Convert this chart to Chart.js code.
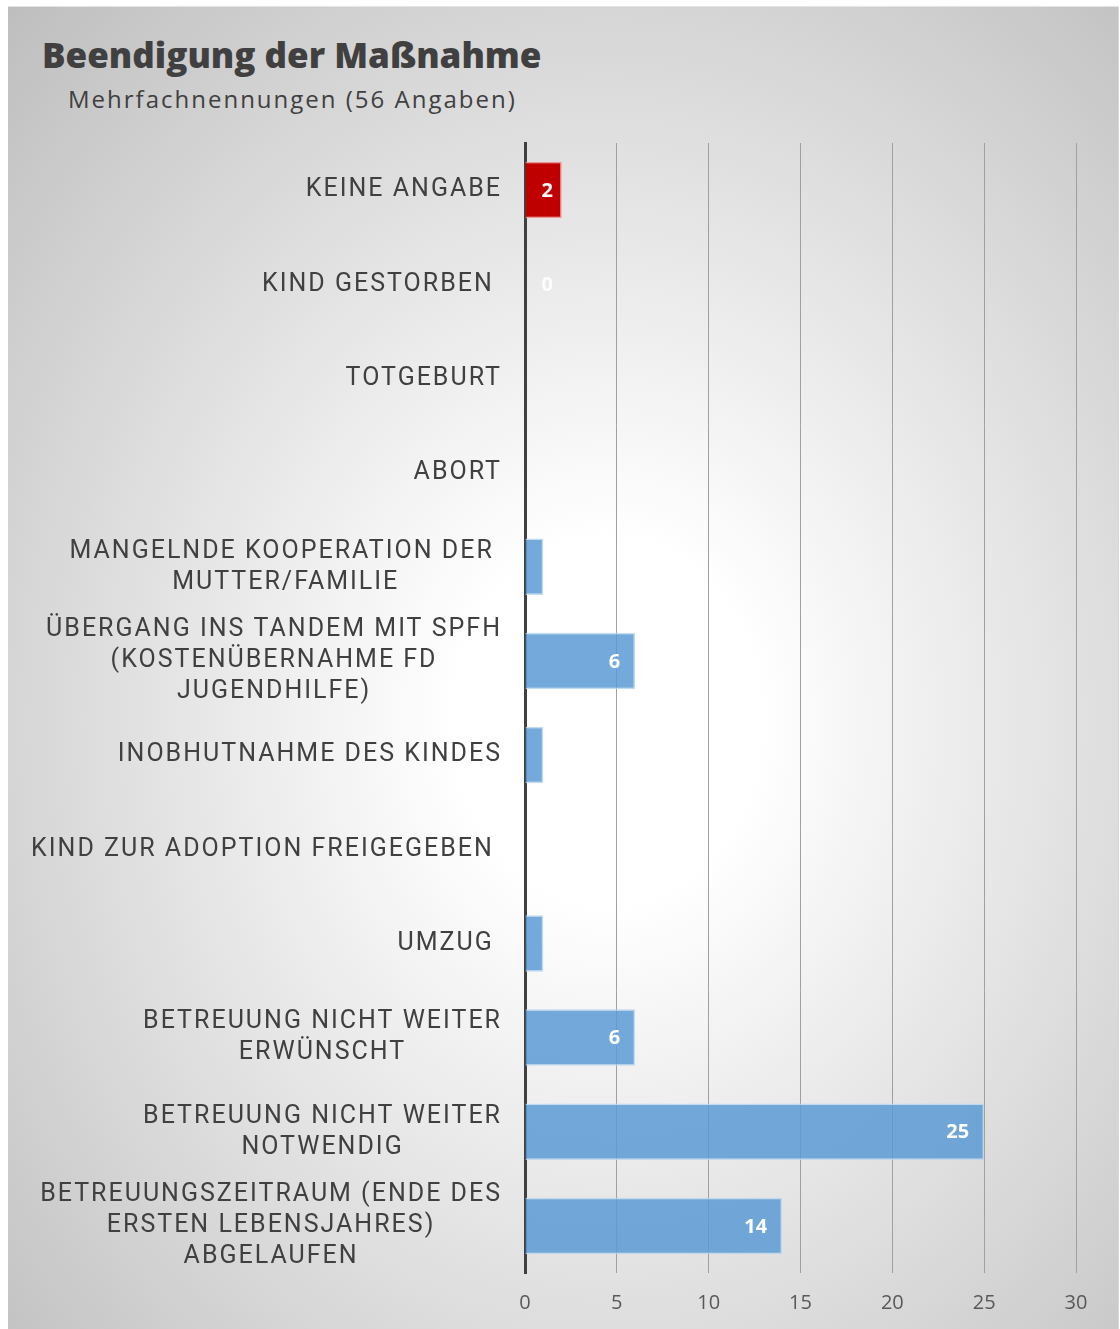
<!DOCTYPE html>
<html lang="de">
<head>
  <meta charset="UTF-8" />
  <title>Beendigung der Maßnahme</title>
  <script src="https://cdn.jsdelivr.net/npm/chart.js"></script>
  <style>
    body { margin: 0; background: #fff; width: 1120px; height: 1329px; overflow: hidden; }
    .panel {
      position: absolute;
      left: 8px; top: 6px;
      width: 1110px; height: 1323px;
      background: radial-gradient(ellipse farthest-corner at 54% 54%, #ffffff 0%, #ffffff 18%, #bebebe 100%);
      border-top: 1px solid #e4e4e4;
      border-right: 1px solid #d8d8d8;
    }
    .title {
      position: absolute; left: 34px; top: 24px;
      font-family: "Open Sans", sans-serif; font-weight: 800; font-size: 35px;
      color: #404040; margin: 0;
    }
    .subtitle {
      position: absolute; left: 60px; top: 75px;
      font-family: "Open Sans", sans-serif; font-size: 24px; letter-spacing: 2px;
      color: #404040;
    }
    canvas { position: absolute; left: 0; top: 0; }
  </style>
</head>
<body>
  <div class="panel">
    <div class="title">Beendigung der Maßnahme</div>
    <div class="subtitle">Mehrfachnennungen (56 Angaben)</div>
    <canvas id="chart" width="1110" height="1323"></canvas>
  </div>

  <script>
    const categories = [
      ['KEINE ANGABE'],
      ['KIND GESTORBEN '],
      ['TOTGEBURT'],
      ['ABORT'],
      ['MANGELNDE KOOPERATION DER ', 'MUTTER/FAMILIE'],
      ['ÜBERGANG INS TANDEM MIT SPFH', '(KOSTENÜBERNAHME FD', 'JUGENDHILFE)'],
      ['INOBHUTNAHME DES KINDES'],
      ['KIND ZUR ADOPTION FREIGEGEBEN '],
      ['UMZUG '],
      ['BETREUUNG NICHT WEITER', 'ERWÜNSCHT'],
      ['BETREUUNG NICHT WEITER', 'NOTWENDIG'],
      ['BETREUUNGSZEITRAUM (ENDE DES', 'ERSTEN LEBENSJAHRES)', 'ABGELAUFEN']
    ];
    const values = [2, 0, 0, 0, 1, 6, 1, 0, 1, 6, 25, 14];
    const showValue = [true, true, false, false, false, true, false, false, false, true, true, true];
    const xTicks = [0, 5, 10, 15, 20, 25, 30];

    const blue = 'rgba(91, 155, 213, 0.85)';
    const red = '#c00000';
    const barColors = values.map((v, i) => i === 0 ? red : blue);
    const borderColors = values.map((v, i) => i === 0 ? 'rgba(240, 140, 140, 0.9)' : 'rgba(189, 215, 238, 0.9)');

    // category labels: right aligned block, lines centered within block
    const categoryLabels = {
      id: 'categoryLabels',
      afterDraw(chart) {
        const ctx = chart.ctx;
        const yScale = chart.scales.y;
        const right = 494;
        const lineH = 31;
        ctx.save();
        ctx.font = '25px Roboto';
        ctx.letterSpacing = '2px';
        ctx.fillStyle = '#404040';
        ctx.textBaseline = 'middle';
        ctx.textAlign = 'center';
        categories.forEach((lines, i) => {
          const y = yScale.getPixelForValue(i);
          const maxW = Math.max(...lines.map(l => ctx.measureText(l).width));
          const cx = right - maxW / 2;
          const y0 = y - (lines.length - 1) * lineH / 2;
          lines.forEach((l, k) => ctx.fillText(l, cx, y0 + k * lineH));
        });
        ctx.restore();
      }
    };

    // value labels inside bar ends
    const valueLabels = {
      id: 'valueLabels',
      afterDatasetsDraw(chart) {
        const ctx = chart.ctx;
        const meta = chart.getDatasetMeta(0);
        const base = chart.scales.x.getPixelForValue(0);
        ctx.save();
        ctx.font = 'bold 20px "Open Sans"';
        ctx.textBaseline = 'middle';
        ctx.textAlign = 'right';
        meta.data.forEach((bar, i) => {
          if (!showValue[i]) return;
          ctx.fillStyle = values[i] === 0 ? 'rgba(255,255,255,0.85)' : '#ffffff';
          const x = Math.max(bar.x - 15, base + 28);
          ctx.fillText(String(values[i]), x, bar.y + 1);
        });
        ctx.restore();
      }
    };

    new Chart(document.getElementById('chart'), {
      type: 'bar',
      data: {
        labels: categories,
        datasets: [{
          data: values,
          backgroundColor: barColors,
          borderColor: borderColors,
          borderWidth: 1.5,
          barPercentage: 0.6,
          categoryPercentage: 1
        }]
      },
      options: {
        indexAxis: 'y',
        responsive: false,
        animation: false,
        layout: { padding: { top: 136, right: 42, bottom: 0, left: 0 } },
        plugins: {
          legend: { display: false },
          tooltip: { enabled: false }
        },
        scales: {
          x: {
            min: 0,
            max: 30,
            afterBuildTicks: s => { s.ticks = xTicks.map(v => ({ value: v })); },
            afterFit: s => { s.height = 57; },
            ticks: { color: '#595959', font: { family: 'Open Sans', size: 20 }, padding: 18 },
            grid: { color: '#a0a0a0', lineWidth: 1, drawTicks: false },
            border: { display: false }
          },
          y: {
            afterFit: s => { s.width = 517; },
            ticks: { display: false },
            grid: { display: false, drawTicks: false },
            border: { display: true, color: '#404040', width: 3 }
          }
        }
      },
      plugins: [categoryLabels, valueLabels]
    });
  </script>
</body>
</html>
